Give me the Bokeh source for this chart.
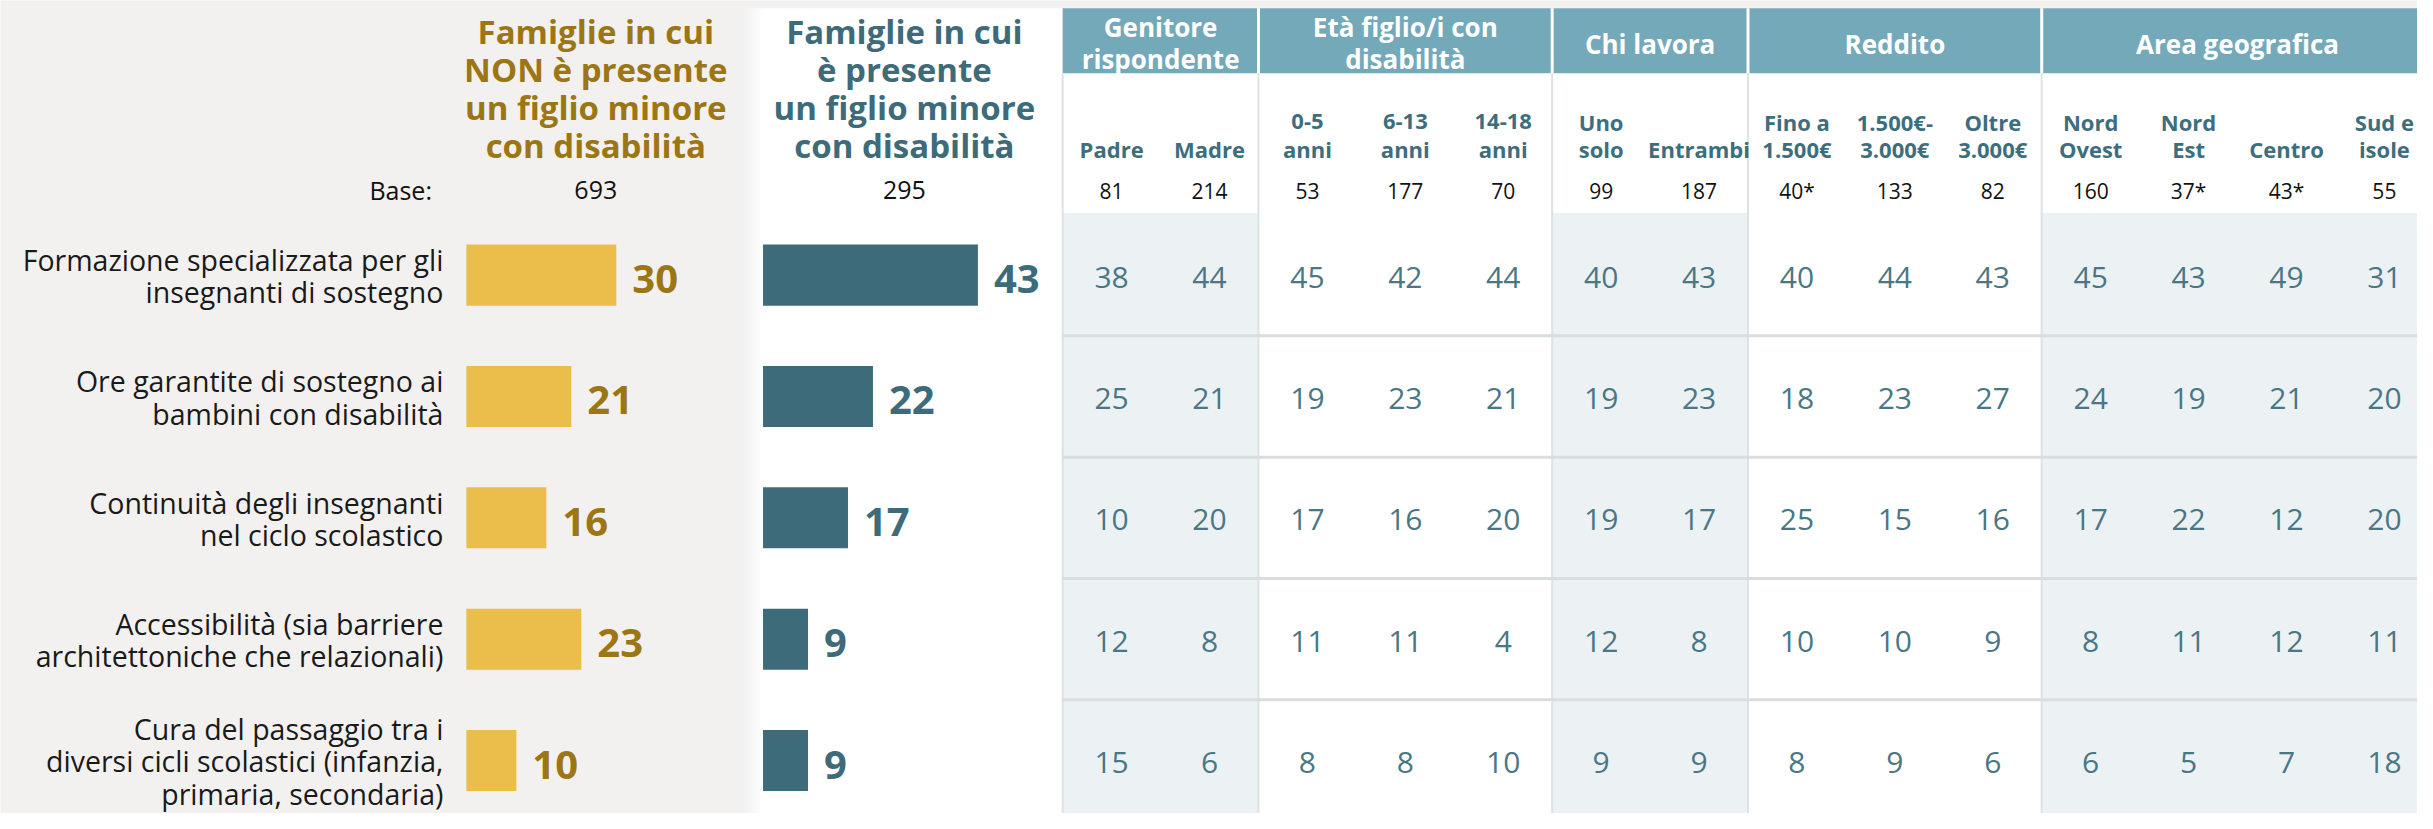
from bokeh.plotting import figure
from bokeh.models import Range1d
from bokeh.core.properties import value
from bokeh.embed import file_html
from bokeh.resources import INLINE

# ---------------- data ----------------
items = [
    "Formazione specializzata per gli\ninsegnanti di sostegno",
    "Ore garantite di sostegno ai\nbambini con disabilità",
    "Continuità degli insegnanti\nnel ciclo scolastico",
    "Accessibilità (sia barriere\narchitettoniche che relazionali)",
    "Cura del passaggio tra i\ndiversi cicli scolastici (infanzia,\nprimaria, secondaria)",
]
no_disab = [30, 21, 16, 23, 10]
with_disab = [43, 22, 17, 9, 9]
title_no = "Famiglie in cui\nNON è presente\nun figlio minore\ncon disabilità"
title_yes = "Famiglie in cui\nè presente\nun figlio minore\ncon disabilità"
base_label = "Base:"
base_no = "693"
base_yes = "295"
groups = ["Genitore\nrispondente", "Età figlio/i con\ndisabilità", "Chi lavora", "Reddito", "Area geografica"]
group_sizes = [2, 3, 2, 3, 4]
subcols = ["Padre", "Madre", "0-5\nanni", "6-13\nanni", "14-18\nanni", "Uno\nsolo", "Entrambi",
           "Fino a\n1.500€", "1.500€-\n3.000€", "Oltre\n3.000€", "Nord\nOvest", "Nord\nEst", "Centro", "Sud e\nisole"]
col_bases = ["81", "214", "53", "177", "70", "99", "187", "40*", "133", "82", "160", "37*", "43*", "55"]
table = [
    [38, 44, 45, 42, 44, 40, 43, 40, 44, 43, 45, 43, 49, 31],
    [25, 21, 19, 23, 21, 19, 23, 18, 23, 27, 24, 19, 21, 20],
    [10, 20, 17, 16, 20, 19, 17, 25, 15, 16, 17, 22, 12, 20],
    [12, 8, 11, 11, 4, 12, 8, 10, 10, 9, 8, 11, 12, 11],
    [15, 6, 8, 8, 10, 9, 9, 8, 9, 6, 6, 5, 7, 18],
]

# ---------------- layout (reference pixel space) ----------------
X0, X1, Y0, Y1 = 0, 2428, 0, 826
PX = 5.02            # px per percentage point
YEL_ZERO, TEAL_ZERO = 468, 766
ROW0, ROW_H = 279, 123.3
COL0, COL_W = 1067, 98.35
TABLE_R = 2431
FONT = value("Open Sans")
TXT = dict(text_font=FONT, text_baseline="alphabetic")
SHIFT = 0.3          # baseline correction, in em


def fix(fs):
    return -SHIFT * fs


PAGE = "#f2f1ef"
GOLD = "#9c7614"
YELLOW = "#ebbd4a"
TEAL = "#3e6b7a"
BAND = "#74a9ba"
SHADE = "#ecf1f4"
SUBTEAL = "#3d6e7d"
NUMTEAL = "#4a7784"

p = figure(width=2417, height=813, x_range=Range1d(X0, X1), y_range=Range1d(Y1, Y0),
           output_backend="svg", toolbar_location=None, min_border=0, title=None)
p.axis.visible = False
p.grid.visible = False
p.outline_line_color = None
p.background_fill_color = PAGE
p.border_fill_color = PAGE
p.extra_x_ranges = {
    "yel": Range1d((X0 - YEL_ZERO) / PX, (X1 - YEL_ZERO) / PX),
    "teal": Range1d((X0 - TEAL_ZERO) / PX, (X1 - TEAL_ZERO) / PX),
    "cols": Range1d((X0 - COL0) / COL_W - 0.5, (X1 - COL0) / COL_W - 0.5),
}
p.extra_y_ranges = {"rows": Range1d((Y1 - ROW0) / ROW_H, (Y0 - ROW0) / ROW_H)}

ncols = len(subcols)
nrows = len(items)

# middle white panel with soft shadow
p.quad(left=[749], right=[1067], top=[8], bottom=[840], fill_color="white", line_color=None)
for k in range(8):
    p.quad(left=[749 + 2 * k], right=[751 + 2 * k], top=[8], bottom=[840],
           fill_color="#000000", fill_alpha=0.05 * (1 - k / 8), line_color=None)

# table background
starts, ends = [], []
s = 0
for g in group_sizes:
    starts.append(s)
    ends.append(s + g)
    s += g
p.quad(left=[COL0], right=[TABLE_R], top=[8], bottom=[840], fill_color="white", line_color=None)
shade_r = [min(ends[i] - 0.5, (TABLE_R - COL0) / COL_W - 0.5) for i in (0, 2, 4)]
p.quad(left=[starts[i] - 0.5 for i in (0, 2, 4)], right=shade_r,
       top=[216] * 3, bottom=[840] * 3, fill_color=SHADE, line_color=None, x_range_name="cols")
p.quad(left=[COL0], right=[TABLE_R], top=[8], bottom=[74], fill_color=BAND, line_color=None)
bounds = [st - 0.5 for st in starts]
p.segment(x0=bounds, y0=[74] * len(bounds), x1=bounds, y1=[840] * len(bounds),
          line_color="#dde2e5", line_width=2, x_range_name="cols")
p.segment(x0=bounds[1:], y0=[8] * 4, x1=bounds[1:], y1=[74] * 4,
          line_color="white", line_width=3, x_range_name="cols")
hl = [i + 0.5 for i in range(nrows - 1)]
p.segment(x0=[-0.5] * len(hl), y0=hl, x1=[(TABLE_R - COL0) / COL_W - 0.5] * len(hl), y1=hl,
          line_color="#dadddf", line_width=3, x_range_name="cols", y_range_name="rows")

# bars
idx = list(range(nrows))
p.hbar(y=idx, left=0, right=no_disab, height=0.503, fill_color=YELLOW, line_color=None,
       x_range_name="yel", y_range_name="rows")
p.hbar(y=idx, left=0, right=with_disab, height=0.503, fill_color=TEAL, line_color=None,
       x_range_name="teal", y_range_name="rows")
p.text(x=no_disab, y=idx, text=[str(v) for v in no_disab], x_offset=16, y_offset=16 + fix(40),
       text_align="left", text_font_style="bold", text_font_size="40px", text_color=GOLD,
       x_range_name="yel", y_range_name="rows", **TXT)
p.text(x=with_disab, y=idx, text=[str(v) for v in with_disab], x_offset=16, y_offset=16 + fix(40),
       text_align="left", text_font_style="bold", text_font_size="40px", text_color=TEAL,
       x_range_name="teal", y_range_name="rows", **TXT)

# category labels (right-aligned before the yellow bars)
LBL_SP = 32.5
for i, lab in enumerate(items):
    lines = lab.split("\n")
    n = len(lines)
    for k, ln in enumerate(lines):
        p.text(x=[0], y=[i], text=[ln], x_offset=-23,
               y_offset=-(n - 1) * LBL_SP / 2 + 9.5 + LBL_SP * k + fix(28.5),
               text_align="right", text_font_size="28.5px", text_color="#1a1a1a",
               x_range_name="yel", y_range_name="rows", **TXT)

# panel titles
for cx, title, col in ((598, title_no, GOLD), (908, title_yes, TEAL)):
    for k, ln in enumerate(title.split("\n")):
        p.text(x=[cx], y=[42 + 38.3 * k], y_offset=fix(33), text=[ln], text_align="center",
               text_font_style="bold", text_font_size="33px", text_color=col, **TXT)
p.text(x=[402, 598, 908], y=[200] * 3, y_offset=fix(25), text=[base_label, base_no, base_yes],
       text_align="center", text_font_size="25px", text_color="#111111", **TXT)

# group headers
for gi, g in enumerate(groups):
    cx = (starts[gi] + ends[gi]) / 2 - 0.5
    lines = g.split("\n")
    ys = [35, 67] if len(lines) == 2 else [52]
    for ln, yy in zip(lines, ys):
        p.text(x=[cx], y=[yy], y_offset=fix(26), text=[ln], text_align="center",
               text_font_style="bold", text_font_size="26px", text_color="white",
               x_range_name="cols", **TXT)

# sub headers and bases
for j, sc in enumerate(subcols):
    lines = sc.split("\n")
    n = len(lines)
    for k, ln in enumerate(lines):
        p.text(x=[j], y=[158 - 28 * (n - 1 - k)], y_offset=fix(22), text=[ln], text_align="center",
               text_font_style="bold", text_font_size="22px", text_color=SUBTEAL,
               x_range_name="cols", **TXT)
p.text(x=list(range(ncols)), y=[199.5] * ncols, y_offset=fix(21), text=col_bases, text_align="center",
       text_font_size="21px", text_color="#111111", x_range_name="cols", **TXT)

# table numbers
tx, ty, tt = [], [], []
for i, row in enumerate(table):
    for j, v in enumerate(row):
        tx.append(j)
        ty.append(i)
        tt.append(str(v))
p.text(x=tx, y=ty, text=tt, y_offset=11 + fix(30), text_align="center", text_font_size="30px",
       text_color=NUMTEAL, x_range_name="cols", y_range_name="rows", **TXT)

open("out.html", "w").write(file_html(p, INLINE))
